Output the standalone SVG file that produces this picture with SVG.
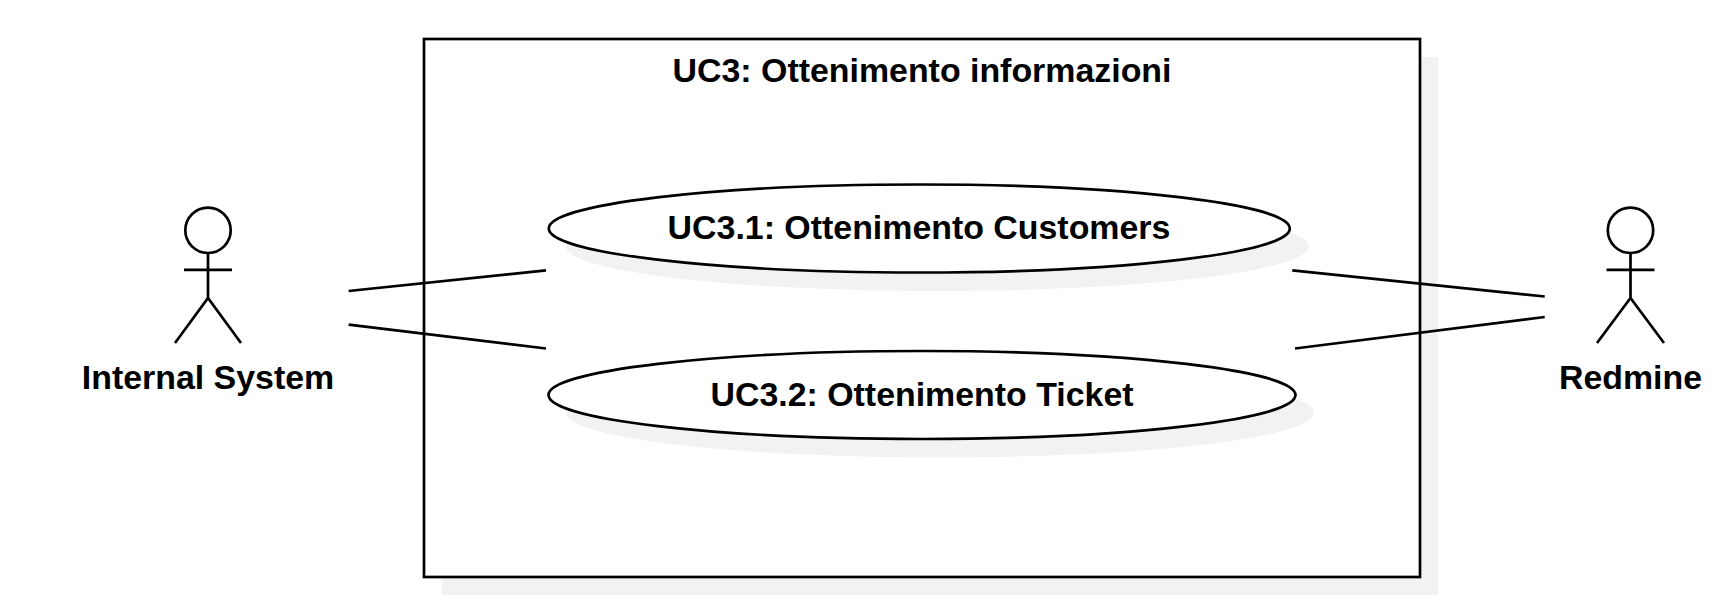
<svg xmlns="http://www.w3.org/2000/svg" width="1718" height="606" viewBox="0 0 1718 606">
<style>
.s{fill:#f2f2f2;stroke:none}
.n{fill:#fff;stroke:#000;stroke-width:2.7}
.l{fill:none;stroke:#000;stroke-width:2.7}
text{font-family:"Liberation Sans",Arial,sans-serif;font-weight:700;font-size:33.9px;text-anchor:middle;fill:#000}
</style>
<rect width="1718" height="606" fill="#fff"/>
<g id="system">
<rect class="s" x="442" y="57" width="996" height="538"/>
<rect class="n" x="424" y="39" width="996" height="538"/>
<text x="922" y="82">UC3: Ottenimento informazioni</text>
</g>
<g id="uc31">
<ellipse class="s" cx="937.300" cy="246.500" rx="371.500" ry="44.500"/>
<ellipse class="n" cx="919.300" cy="228.500" rx="370.500" ry="44"/>
<text x="919" y="239">UC3.1: Ottenimento Customers</text>
</g>
<g id="uc32">
<ellipse class="s" cx="940" cy="413" rx="374" ry="44.500"/>
<ellipse class="n" cx="922" cy="395" rx="373.500" ry="44"/>
<text x="922" y="406">UC3.2: Ottenimento Ticket</text>
</g>
<g id="connectors">
<line class="l" x1="348.600" y1="291" x2="546" y2="270.300"/>
<line class="l" x1="348.600" y1="324.600" x2="546" y2="348.500"/>
<line class="l" x1="1292.300" y1="270.300" x2="1544.700" y2="296.500"/>
<line class="l" x1="1295" y1="348.500" x2="1544.700" y2="317"/>
</g>
<g id="actor-internal">
<circle class="n" cx="208" cy="230.300" r="22.700"/>
<path class="l" d="M208 253V298M184 269.800H232M175 343L208 298L241 343"/>
<text x="208" y="389">Internal System</text>
</g>
<g id="actor-redmine">
<circle class="n" cx="1630.500" cy="230.300" r="22.700"/>
<path class="l" d="M1630.500 253V298M1606.500 269.800H1654.500M1597 343L1630.500 298L1664 343"/>
<text x="1630.500" y="389">Redmine</text>
</g>
</svg>
